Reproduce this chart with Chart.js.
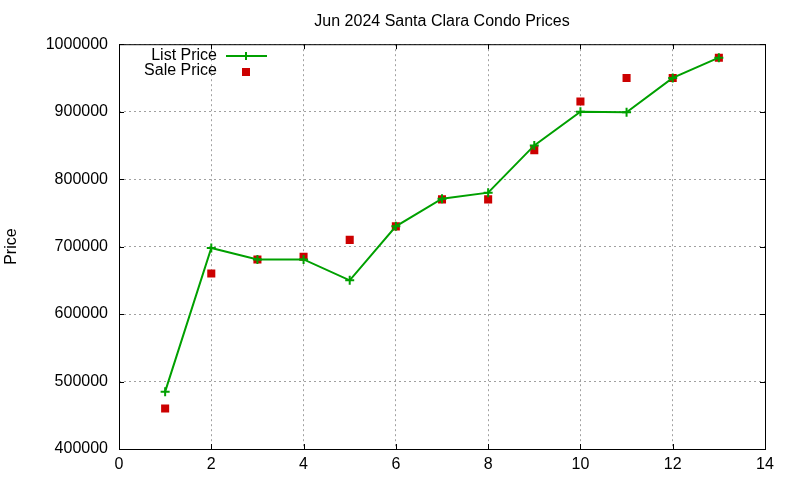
<!DOCTYPE html>
<html>
<head>
<meta charset="utf-8">
<script src="https://cdn.jsdelivr.net/npm/chart.js@4"></script>
<style>
  html, body { margin: 0; padding: 0; background: #fff; }
  #wrap { width: 800px; height: 480px; }
</style>
</head>
<body>
<div id="wrap"><canvas id="price__chart" width="800" height="480"></canvas></div>
<script>
const months = [1, 2, 3, 4, 5, 6, 7, 8, 9, 10, 11, 12, 13]
const listPrice = [485000, 698000, 681000, 681000, 650000, 730000, 771000, 780000, 850000, 900000, 899000, 950000, 980000]
const salePrice = [460000, 660000, 681000, 685000, 710000, 730000, 770000, 770000, 843000, 915000, 950000, 950000, 980000]
const xTicks = [0, 2, 4, 6, 8, 10, 12, 14]
const yTicks = [400000, 500000, 600000, 700000, 800000, 900000, 1000000]

const GREEN = '#00a000'
const RED = '#cc0000'
const FONT = 'Liberation Sans, Arial, sans-serif'

Chart.defaults.font.family = FONT
Chart.defaults.font.size = 16
Chart.defaults.color = '#000'

// gnuplot-like frame: border, inward ticks on every side, key in the corner
const gnuFrame = {
    id: 'gnuFrame',
    afterDatasetsDraw(chart) {
        const { ctx, chartArea: a, scales: { x, y } } = chart
        ctx.save()
        ctx.strokeStyle = '#000'
        ctx.lineWidth = 1
        ctx.setLineDash([])
        ctx.beginPath()
        xTicks.forEach(v => {
            const px = Math.round(x.getPixelForValue(v)) + 0.5
            ctx.moveTo(px, a.bottom); ctx.lineTo(px, a.bottom - 5)
            ctx.moveTo(px, a.top); ctx.lineTo(px, a.top + 5)
        })
        yTicks.forEach(v => {
            const py = Math.round(y.getPixelForValue(v)) + 0.5
            ctx.moveTo(a.left, py); ctx.lineTo(a.left + 5, py)
            ctx.moveTo(a.right, py); ctx.lineTo(a.right - 5, py)
        })
        ctx.stroke()
        ctx.strokeRect(a.left + 0.5, a.top + 0.5, a.right - a.left, a.bottom - a.top)

        // key
        ctx.font = '16px ' + FONT
        ctx.fillStyle = '#000'
        ctx.textAlign = 'right'
        ctx.textBaseline = 'middle'
        ctx.fillText('List Price', 217, 56)
        ctx.fillText('Sale Price', 217, 71)
        ctx.strokeStyle = GREEN
        ctx.lineWidth = 2
        ctx.beginPath()
        ctx.moveTo(226, 56); ctx.lineTo(267, 56)
        ctx.moveTo(246, 52); ctx.lineTo(246, 60)
        ctx.stroke()
        ctx.fillStyle = RED
        ctx.fillRect(242, 68, 8, 8)
        ctx.restore()
    }
}

new Chart(document.getElementById('price__chart'), {
    type: 'line',
    data: {
        datasets: [{
            label: 'List Price',
            data: months.map((m, i) => ({ x: m, y: listPrice[i] })),
            borderColor: GREEN,
            backgroundColor: GREEN,
            borderWidth: 2,
            pointStyle: 'cross',
            pointRadius: 4.5,
            pointBorderWidth: 2,
            tension: 0
        }, {
            label: 'Sale Price',
            data: months.map((m, i) => ({ x: m, y: salePrice[i] })),
            showLine: false,
            borderColor: RED,
            backgroundColor: RED,
            pointStyle: 'rect',
            pointRadius: 5.7,
            pointBorderWidth: 0
        }]
    },
    options: {
        responsive: false,
        animation: false,
        devicePixelRatio: 1,
        layout: { padding: { left: 0, right: 35, top: 0, bottom: 0 } },
        plugins: {
            legend: { display: false },
            tooltip: { enabled: false },
            title: {
                display: true,
                text: 'Jun 2024 Santa Clara Condo Prices',
                fullSize: false,
                font: { size: 16, weight: 'normal' },
                color: '#000',
                padding: { top: 12, bottom: 13 }
            }
        },
        scales: {
            x: {
                type: 'linear',
                min: 0,
                max: 14,
                afterFit(scale) { scale.height = 31 },
                afterBuildTicks(scale) { scale.ticks = xTicks.map(v => ({ value: v })) },
                ticks: { padding: 6, maxRotation: 0, autoSkip: false, callback: v => String(v) },
                grid: { drawTicks: false, color: '#a0a0a0', lineWidth: 1 },
                border: { display: false, dash: [2, 3] }
            },
            y: {
                min: 400000,
                max: 1000000,
                afterFit(scale) { scale.width = 119 },
                afterBuildTicks(scale) { scale.ticks = yTicks.map(v => ({ value: v })) },
                ticks: { padding: 11, callback: v => String(v) },
                grid: { drawTicks: false, color: '#a0a0a0', lineWidth: 1 },
                border: { display: false, dash: [2, 3] },
                title: {
                    display: true,
                    text: 'Price',
                    font: { size: 16 },
                    padding: { top: 2, bottom: 0 }
                }
            }
        }
    },
    plugins: [gnuFrame]
})
</script>
</body>
</html>
